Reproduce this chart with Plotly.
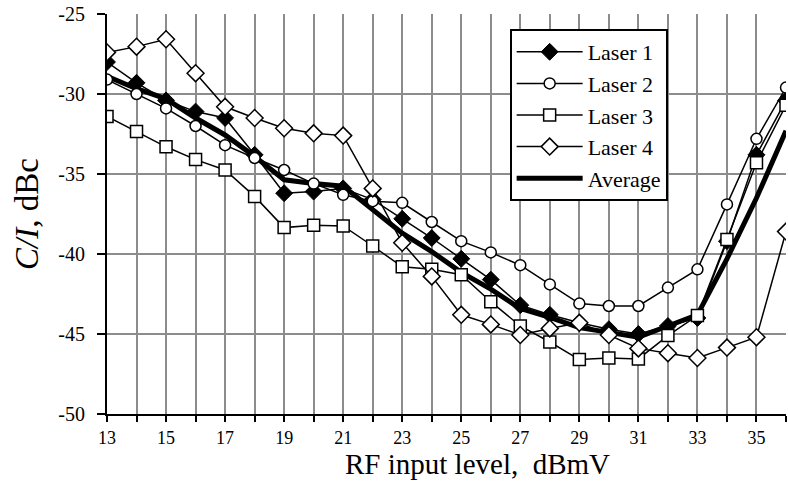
import plotly.graph_objects as go

x = list(range(13, 37))
laser1 = [-28.0, -29.3, -30.4, -31.1, -31.5, -33.8, -36.2, -36.1, -35.9, -36.6, -37.8, -39.0,
          -40.3, -41.6, -43.2, -43.8, -44.3, -44.7, -45.0, -44.5, -44.0, -39.2, -33.8, -30.4]
laser2 = [-29.1, -30.0, -30.9, -32.0, -33.2, -34.0, -34.75, -35.6, -36.3, -36.7, -36.8, -38.0,
          -39.2, -39.9, -40.7, -41.9, -43.1, -43.25, -43.25, -42.1, -40.96, -36.9, -32.8, -29.6]
laser3 = [-31.4, -32.35, -33.3, -34.1, -34.75, -36.4, -38.35, -38.2, -38.25, -39.5, -40.8, -40.96,
          -41.3, -42.98, -44.5, -45.5, -46.6, -46.5, -46.56, -45.1, -43.85, -39.1, -34.3, -30.7]
laser4 = [-27.4, -27.04, -26.58, -28.7, -30.8, -31.5, -32.14, -32.46, -32.6, -35.9, -39.3, -41.4,
          -43.8, -44.4, -45.06, -44.65, -44.3, -45.06, -45.9, -46.2, -46.5, -45.85, -45.2, -38.6]
average = [-28.9, -29.67, -30.3, -31.5, -32.56, -33.9, -35.36, -35.6, -35.76, -37.2, -38.7, -39.85,
           -41.15, -42.2, -43.4, -43.96, -44.6, -44.9, -45.2, -44.5, -43.8, -40.3, -36.5, -32.3]

x_tickvals = list(range(13, 37))
x_ticktext = [str(v) if v % 2 == 1 and v <= 35 else "" for v in x_tickvals]
y_tickvals = [-50, -45, -40, -35, -30, -25]
y_ticktext = ["-50", "-45", "-40", "-35", "-30", "-25"]
x_title = "RF input level,\u00a0\u00a0dBmV"
y_title = "<i>C/I</i>, dBc"

FONT = "Liberation Serif"

fig = go.Figure()
fig.add_trace(go.Scatter(x=x, y=average, name="Average", mode="lines",
                         line=dict(color="black", width=5), legendrank=5))
fig.add_trace(go.Scatter(x=x, y=laser1, name="Laser 1", mode="lines+markers",
                         line=dict(color="black", width=1.5),
                         marker=dict(symbol="diamond", size=13, color="black",
                                     line=dict(color="black", width=1)), legendrank=1))
fig.add_trace(go.Scatter(x=x, y=laser2, name="Laser 2", mode="lines+markers",
                         line=dict(color="black", width=1.5),
                         marker=dict(symbol="circle", size=11, color="white",
                                     line=dict(color="black", width=1.5)), legendrank=2))
fig.add_trace(go.Scatter(x=x, y=laser3, name="Laser 3", mode="lines+markers",
                         line=dict(color="black", width=1.5),
                         marker=dict(symbol="square", size=12, color="white",
                                     line=dict(color="black", width=1.5)), legendrank=3))
fig.add_trace(go.Scatter(x=x, y=laser4, name="Laser 4", mode="lines+markers",
                         line=dict(color="black", width=1.5),
                         marker=dict(symbol="diamond", size=13, color="white",
                                     line=dict(color="black", width=1.5)), legendrank=4))

fig.add_annotation(text=x_title, xref="paper", yref="paper", x=0.545, y=-0.1675,
                   xanchor="center", yanchor="bottom", showarrow=False, borderpad=0,
                   yshift=0, font=dict(family=FONT, size=29, color="black"))

fig.update_layout(
    width=788, height=481,
    margin=dict(l=107, r=2, t=14, b=67),
    paper_bgcolor="white", plot_bgcolor="white",
    font=dict(family=FONT, color="black"),
    showlegend=True,
    legend=dict(x=0.593, y=0.9625, xanchor="left", yanchor="top",
                bgcolor="white", bordercolor="black", borderwidth=2,
                font=dict(family=FONT, size=22, color="black"),
                tracegroupgap=0, itemwidth=66),
    xaxis=dict(range=[13, 36], tickvals=x_tickvals, ticktext=x_ticktext,
               showgrid=True, gridcolor="#8c8c8c", gridwidth=2,
               showline=True, linecolor="black", linewidth=2,
               ticks="outside", ticklen=6, tickwidth=2, tickcolor="black",
               tickfont=dict(family=FONT, size=18, color="black"),
               zeroline=False),
    yaxis=dict(range=[-50, -25], tickvals=y_tickvals, ticktext=y_ticktext,
               showgrid=True, gridcolor="#8c8c8c", gridwidth=2,
               showline=True, linecolor="black", linewidth=2,
               ticks="outside", ticklen=8, tickwidth=2, tickcolor="black",
               tickfont=dict(family=FONT, size=20, color="black"),
               ticklabelstandoff=8,
               title=dict(text=y_title, standoff=10,
                          font=dict(family=FONT, size=33, color="black")),
               zeroline=False),
)

fig.write_html("out.html")
